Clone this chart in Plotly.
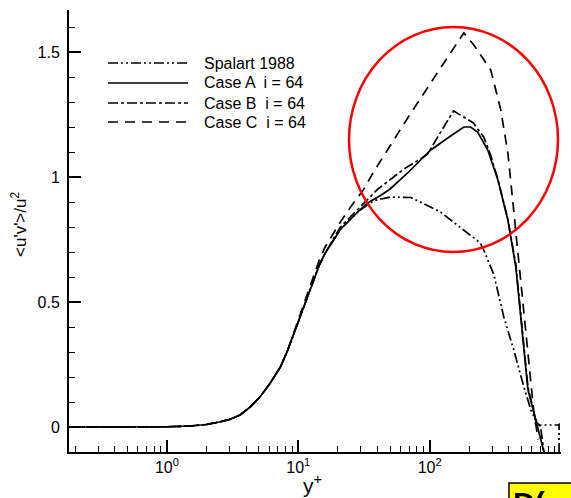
import plotly.graph_objects as go

# ---------------- data ----------------
common_y = [0.18, 0.5, 1.0, 1.5, 2.0, 2.5, 3.0, 3.6, 4.3, 5.1, 6.1, 7.3, 8.2, 9.2, 10.3, 11.3, 12.2, 13.3, 14.5, 16]
common_v = [0, 0, 0.001, 0.004, 0.01, 0.02, 0.03, 0.048, 0.08, 0.12, 0.175, 0.24, 0.30, 0.37, 0.44, 0.5, 0.55, 0.605, 0.65, 0.695]

spalart_y = common_y + [20.9, 28.3, 37.4, 50, 63, 72, 121, 160, 195, 243, 258, 308, 367, 437, 522, 590, 650, 680, 950, 966, 966]
spalart_v = common_v + [0.79, 0.86, 0.905, 0.92, 0.92, 0.918, 0.86, 0.81, 0.776, 0.736, 0.708, 0.61, 0.44, 0.308, 0.16, 0.068, 0.02, 0.008, 0.008, 0.01, -0.1]

caseA_y = common_y + [20.9, 28.3, 33.6, 42, 50, 68, 102, 150, 182, 205, 232, 277, 331, 394, 453, 560, 650, 742]
caseA_v = common_v + [0.79, 0.86, 0.896, 0.925, 0.952, 1.016, 1.108, 1.17, 1.2, 1.2, 1.18, 1.108, 0.988, 0.828, 0.64, 0.15, 0.02, -0.1]

caseB_y = common_y + [20.9, 28.3, 40, 63, 96, 128, 152, 182, 215, 258, 290, 331, 394, 453, 560, 640, 700, 740]
caseB_v = common_v + [0.80, 0.87, 0.95, 1.03, 1.09, 1.2, 1.264, 1.24, 1.216, 1.16, 1.09, 0.99, 0.83, 0.65, 0.16, 0.03, 0.0, -0.1]

caseC_y = [0.18, 0.5, 1.0, 1.5, 2.0, 2.5, 3.0, 3.6, 4.3, 5.1, 6.1, 7.3, 8.2, 9.2, 10.3, 11.3, 12.2, 13.3, 14.5, 16,
           20.9, 25, 31.4, 37.4, 68, 121, 182, 217, 292, 348, 394, 430, 470, 540, 622, 670]
caseC_v = [0, 0, 0.001, 0.004, 0.01, 0.02, 0.03, 0.048, 0.08, 0.12, 0.175, 0.24, 0.30, 0.375, 0.448, 0.51, 0.565, 0.62, 0.67, 0.72,
           0.82, 0.88, 0.95, 1.02, 1.236, 1.436, 1.576, 1.528, 1.428, 1.268, 1.096, 0.9, 0.7, 0.38, 0.056, -0.05]

series_names = ["Spalart 1988", "Case A  i = 64", "Case B  i = 64", "Case C  i = 64"]
x_major = [1, 10, 100, 1000]
x_major_text = ["10<sup>0</sup>", "10<sup>1</sup>", "10<sup>2</sup>", "10<sup>3</sup>"]
x_minor = [m * d for d in [0.1, 1, 10, 100] for m in range(2, 10)]
y_major = [0, 0.5, 1, 1.5]
y_major_text = ["0", "0.5", "1", "1.5"]

# ---------------- styles ----------------
dashes = ["10px,3px,2px,3px,2px,3px", "solid", "10px,3px,3px,3px", "10px,7px"]
FONT = "Liberation Sans, Arial, Helvetica, sans-serif"

fig = go.Figure()
for xs, vs, name, dash in zip([spalart_y, caseA_y, caseB_y, caseC_y],
                              [spalart_v, caseA_v, caseB_v, caseC_v],
                              series_names, dashes):
    fig.add_trace(go.Scatter(x=xs, y=vs, mode="lines", name=name,
                             line=dict(color="black", width=1.7, dash=dash),
                             showlegend=False))

# plot-area geometry in pixels
L, R, T, B = 69, 561, 10, 452
W, H = R - L, B - T
def px(x):
    return (x - L) / W
def py(y):
    return (B - y) / H

shapes = []
annotations = []
# manual legend
rows = [63, 83, 103, 122]
for name, dash, yy in zip(series_names, dashes, rows):
    shapes.append(dict(type="line", xref="paper", yref="paper",
                       x0=px(108), x1=px(188), y0=py(yy), y1=py(yy),
                       line=dict(color="black", width=1.4, dash=dash)))
    annotations.append(dict(xref="paper", yref="paper", x=px(202), y=py(yy),
                            text=name, showarrow=False, xanchor="left", yanchor="middle",
                            font=dict(family=FONT, size=16, color="black")))

# red circle highlight
shapes.append(dict(type="circle", xref="paper", yref="paper",
                   x0=px(349), x1=px(558), y0=py(252), y1=py(27),
                   line=dict(color="red", width=2.5)))

# yellow box in the bottom-right corner
shapes.append(dict(type="rect", xref="paper", yref="paper",
                   x0=px(509), x1=px(600), y0=py(520), y1=py(483),
                   fillcolor="yellow", line=dict(color="black", width=1.5)))
annotations.append(dict(xref="paper", yref="paper", x=px(511), y=py(484),
                        text="<b>D(</b>", showarrow=False, xanchor="left", yanchor="top",
                        font=dict(family=FONT, size=30, color="black")))

# axis titles as annotations (pixel-placed)
annotations.append(dict(xref="paper", yref="paper", x=px(312), y=py(484),
                        text="y<sup>+</sup>", showarrow=False, xanchor="center", yanchor="middle",
                        font=dict(family=FONT, size=21, color="black")))
annotations.append(dict(xref="paper", yref="paper", x=px(19), y=py(225),
                        text="&lt;u'v'&gt;/u<sup>2</sup>", showarrow=False, textangle=-90,
                        xanchor="center", yanchor="middle",
                        font=dict(family=FONT, size=17, color="black")))

fig.update_layout(
    width=571, height=498,
    margin=dict(l=L, r=571 - R, t=T, b=498 - B),
    paper_bgcolor="white", plot_bgcolor="white",
    font=dict(family=FONT, size=16, color="black"),
    shapes=shapes, annotations=annotations,
    xaxis=dict(type="log", range=[-0.746, 3.0], automargin=False,
               tickmode="array", tickvals=x_major, ticktext=x_major_text,
               ticks="inside", ticklen=12, tickwidth=1.5, tickcolor="black",
               minor=dict(tickmode="array", tickvals=x_minor, ticks="inside",
                          ticklen=6, tickwidth=1, tickcolor="black"),
               showline=True, linecolor="black", linewidth=2,
               showgrid=False, zeroline=False,
               tickfont=dict(family=FONT, size=16)),
    yaxis=dict(range=[-0.1, 1.668], automargin=False,
               tickmode="array", tickvals=y_major, ticktext=y_major_text,
               ticks="inside", ticklen=12, tickwidth=1.5, tickcolor="black",
               minor=dict(dtick=0.1, ticks="inside", ticklen=6, tickwidth=1,
                          tickcolor="black"),
               showline=True, linecolor="black", linewidth=2,
               showgrid=False, zeroline=False,
               tickfont=dict(family=FONT, size=16),
               ticklabelstandoff=4),
)

fig.write_html("out.html")
